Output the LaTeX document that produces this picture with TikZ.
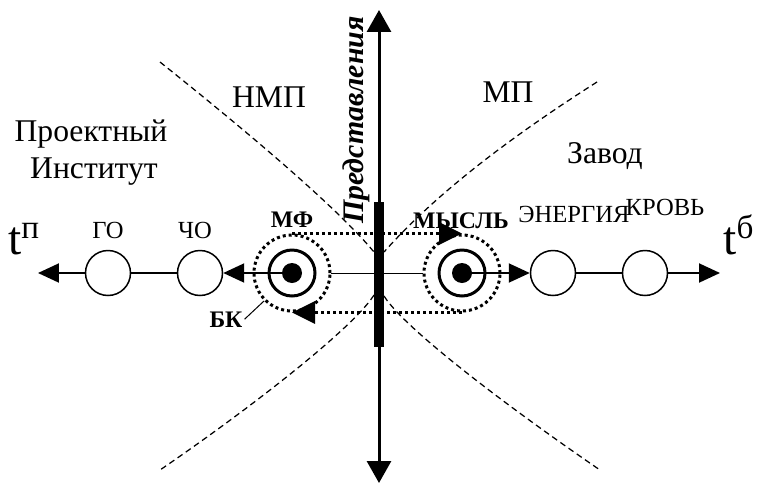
\documentclass[tikz,border=0pt]{standalone}
\usepackage{fontspec}
\setmainfont{Liberation Serif}
\usetikzlibrary{arrows.meta}

\begin{document}
\begin{tikzpicture}[x=0.02cm, y=-0.02cm,
    big/.style={font=\fontsize{18}{22}\selectfont, anchor=base},
    small/.style={font=\fontsize{14}{17}\selectfont, anchor=base},
    boldlbl/.style={font=\fontsize{13.5}{16}\selectfont\bfseries, anchor=base},
    tlbl/.style={font=\fontsize{27}{32}\selectfont, anchor=base},
    vert/.style={font=\fontsize{17}{20}\selectfont\bfseries\itshape, anchor=base, rotate=90},
    stage/.style={circle, draw=black, fill=white, line width=0.03cm, minimum size=0.9cm, inner sep=0pt},
    ring/.style={circle, draw=black, fill=white, line width=0.06cm, minimum size=0.92cm, inner sep=0pt},
    core/.style={circle, fill=black, minimum size=0.4cm, inner sep=0pt},
    bk/.style={circle, draw=black, line width=0.06cm, dash pattern=on 0.06cm off 0.06cm, minimum size=1.52cm, inner sep=0pt},
    bar/.style={rectangle, fill=black, minimum width=0.2cm, minimum height=2.9cm, inner sep=0pt},
    arr/.style={-{Triangle[length=0.42cm,width=0.38cm]}, line width=0.04cm},
    link/.style={line width=0.03cm},
    thinlink/.style={line width=0.02cm},
    cycarr/.style={-{Triangle[length=0.46cm,width=0.44cm]}, line width=0.06cm, dash pattern=on 0.06cm off 0.06cm},
    hyp/.style={line width=0.025cm, dash pattern=on 0.12cm off 0.08cm},
    vaxis/.style={{Triangle[length=0.44cm,width=0.48cm]}-{Triangle[length=0.44cm,width=0.48cm]}, line width=0.06cm}
]
    \useasboundingbox (0,0) rectangle (757,484);

    % Borders
    \draw[hyp] (160,62) .. controls (260,142) and (339,210) .. (374,252);
    \draw[hyp] (597,82) .. controls (487,152) and (424,207) .. (384,252);
    \draw[hyp] (374,295) .. controls (354,327) and (255,405) .. (160,470);
    \draw[hyp] (384,296) .. controls (404,328) and (505,405) .. (600,470);

    % Stages
    \node[stage] (go) at (108,273) {};
    \node[stage] (cho) at (200,273) {};
    \node[bk] (bkl) at (292,273) {};
    \node[ring] (mf) at (292,273) {};
    \node[core] (mfc) at (292,273) {};
    \node[bk] (bkr) at (462,273) {};
    \node[ring] (mysl) at (462,273) {};
    \node[core] (myslc) at (462,273) {};
    \node[stage] (en) at (553,273) {};
    \node[stage] (krov) at (645,273) {};

    % Axis ends
    \coordinate (lend) at (38,273);
    \coordinate (rend) at (720,273);
    \coordinate (up) at (379,10);
    \coordinate (down) at (379,483);

    % Arrows
    \draw[arr] (go) -- (lend);
    \draw[link] (go) -- (cho);
    \draw[arr] (mfc) -- (cho);
    \draw[thinlink] (bkl) -- (bkr);
    \draw[arr] (myslc) -- (en);
    \draw[link] (en) -- (krov);
    \draw[arr] (krov) -- (rend);

    \draw[cycarr] (bkl.north) -- (bkr.north);
    \draw[cycarr] (bkr.south) -- (bkl.south);

    \draw[vaxis] (down) -- (up);
    \node[bar] (bar) at (379,274.5) {};

    % Labels
    \node[vert] (pred) at (363,120) {Представления};
    \node[big] (proj) at (91,141) {Проектный};
    \node[big] (inst) at (94,178) {Институт};
    \node[big] (nmp) at (269,107) {НМП};
    \node[big] (mp) at (508,102) {МП};
    \node[big] (zavod) at (605,163) {Завод};
    \node[small] (golbl) at (108,238) {ГО};
    \node[small] (cholbl) at (195,238) {ЧО};
    \node[small] (enlbl) at (574,222) {ЭНЕРГИЯ};
    \node[small] (krlbl) at (665,215) {КРОВЬ};
    \node[boldlbl] (mflbl) at (292,227) {МФ};
    \node[boldlbl] (myslbl) at (461,228) {МЫСЛЬ};
    \node[boldlbl, inner sep=1pt] (bklbl) at (226,327) {БК};
    \node[tlbl] (tp) at (24,254) {t\textsuperscript{п}};
    \node[tlbl] (tb) at (739,254) {t\textsuperscript{б}};

    \draw[thinlink] (bklbl.east) -- (bkl.225);
\end{tikzpicture}
\end{document}
